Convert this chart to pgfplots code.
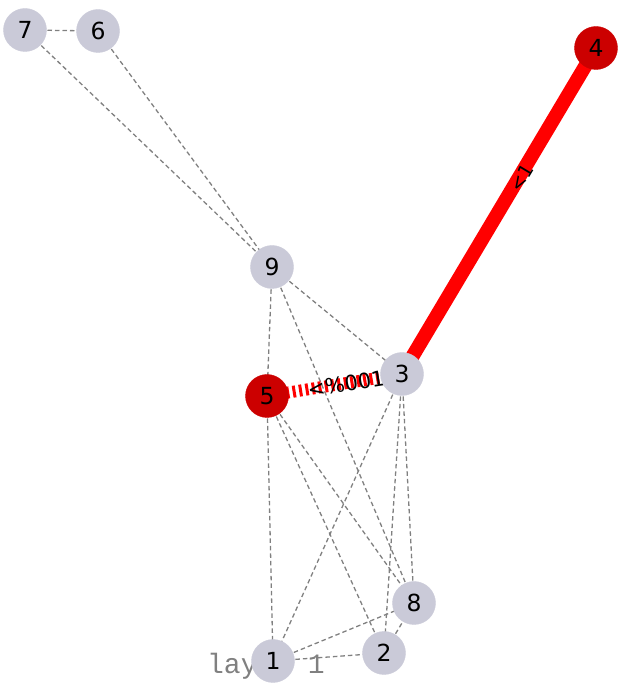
\documentclass[border=0pt]{standalone}
\usepackage{pgfplots}
\pgfplotsset{compat=1.18}
\usepackage{fontspec}
\setmainfont{DejaVu Sans}
\newfontfamily\monofont{Liberation Mono}
\definecolor{nodegray}{RGB}{202,202,216}
\definecolor{nodered}{RGB}{204,0,0}
\definecolor{edgegray}{RGB}{128,128,128}
\begin{document}
\begin{tikzpicture}
\begin{axis}[scale only axis, width=617pt, height=684pt,
  xmin=0, xmax=617, ymin=-684, ymax=0, hide axis, clip=false,
  edge/.style={draw=edgegray, line width=1.3pt, dash pattern=on 4.5pt off 3pt, mark=none},
]
% dashed gray edges
\addplot[edge] coordinates {(25,-30) (98,-31)};   % 7-6
\addplot[edge] coordinates {(25,-30) (272,-267)}; % 7-9
\addplot[edge] coordinates {(98,-31) (272,-267)}; % 6-9
\addplot[edge] coordinates {(272,-267) (402,-374)}; % 9-3
\addplot[edge] coordinates {(272,-267) (267,-396)}; % 9-5
\addplot[edge] coordinates {(272,-267) (414,-603)}; % 9-8
\addplot[edge] coordinates {(402,-374) (273,-661)}; % 3-1
\addplot[edge] coordinates {(402,-374) (384,-653)}; % 3-2
\addplot[edge] coordinates {(402,-374) (414,-603)}; % 3-8
\addplot[edge] coordinates {(267,-396) (273,-661)}; % 5-1
\addplot[edge] coordinates {(267,-396) (384,-653)}; % 5-2
\addplot[edge] coordinates {(267,-396) (414,-603)}; % 5-8
\addplot[edge] coordinates {(273,-661) (384,-653)}; % 1-2
\addplot[edge] coordinates {(273,-661) (414,-603)}; % 1-8
\addplot[edge] coordinates {(384,-653) (414,-603)}; % 2-8
% red edges
\addplot[draw=red, line width=14pt, mark=none] coordinates {(402,-374) (596,-48)}; % 3-4
\addplot[draw=red, line width=12pt, dash pattern=on 3pt off 3.5pt, mark=none] coordinates {(267,-396) (402,-374)}; % 5-3
% edge labels
\addplot[draw=none, mark=none, nodes near coords, point meta=explicit symbolic,
  every node near coord/.append style={anchor=center, rotate=59, font=\fontsize{19}{21}\selectfont, text=black}]
  coordinates {(522,-178) [<1]};
\addplot[draw=none, mark=none, nodes near coords, point meta=explicit symbolic,
  every node near coord/.append style={anchor=center, rotate=9, font=\fontsize{21}{23}\selectfont, text=black}]
  coordinates {(346,-384) [<\%001]};
% layer label
\addplot[draw=none, mark=none, nodes near coords, point meta=explicit symbolic,
  every node near coord/.append style={anchor=center, font=\monofont\fontsize{28}{30}\selectfont, text=edgegray}]
  coordinates {(266,-666) [layer 1]};
% gray nodes
\addplot[only marks, color=nodegray, mark=*, mark size=21.5pt,
  nodes near coords, point meta=explicit symbolic,
  every node near coord/.append style={anchor=center, font=\fontsize{23.5}{25}\selectfont, text=black}]
  coordinates {(25,-30) [7] (98,-31) [6] (272,-267) [9] (402,-374) [3] (414,-603) [8] (273,-661) [1] (384,-653) [2]};
% red nodes
\addplot[only marks, color=nodered, mark=*, mark size=21.5pt,
  nodes near coords, point meta=explicit symbolic,
  every node near coord/.append style={anchor=center, font=\fontsize{23.5}{25}\selectfont, text=black}]
  coordinates {(596,-48) [4] (267,-396) [5]};
\end{axis}
\path (current axis.south west) rectangle (current axis.north east);
\end{tikzpicture}
\end{document}
